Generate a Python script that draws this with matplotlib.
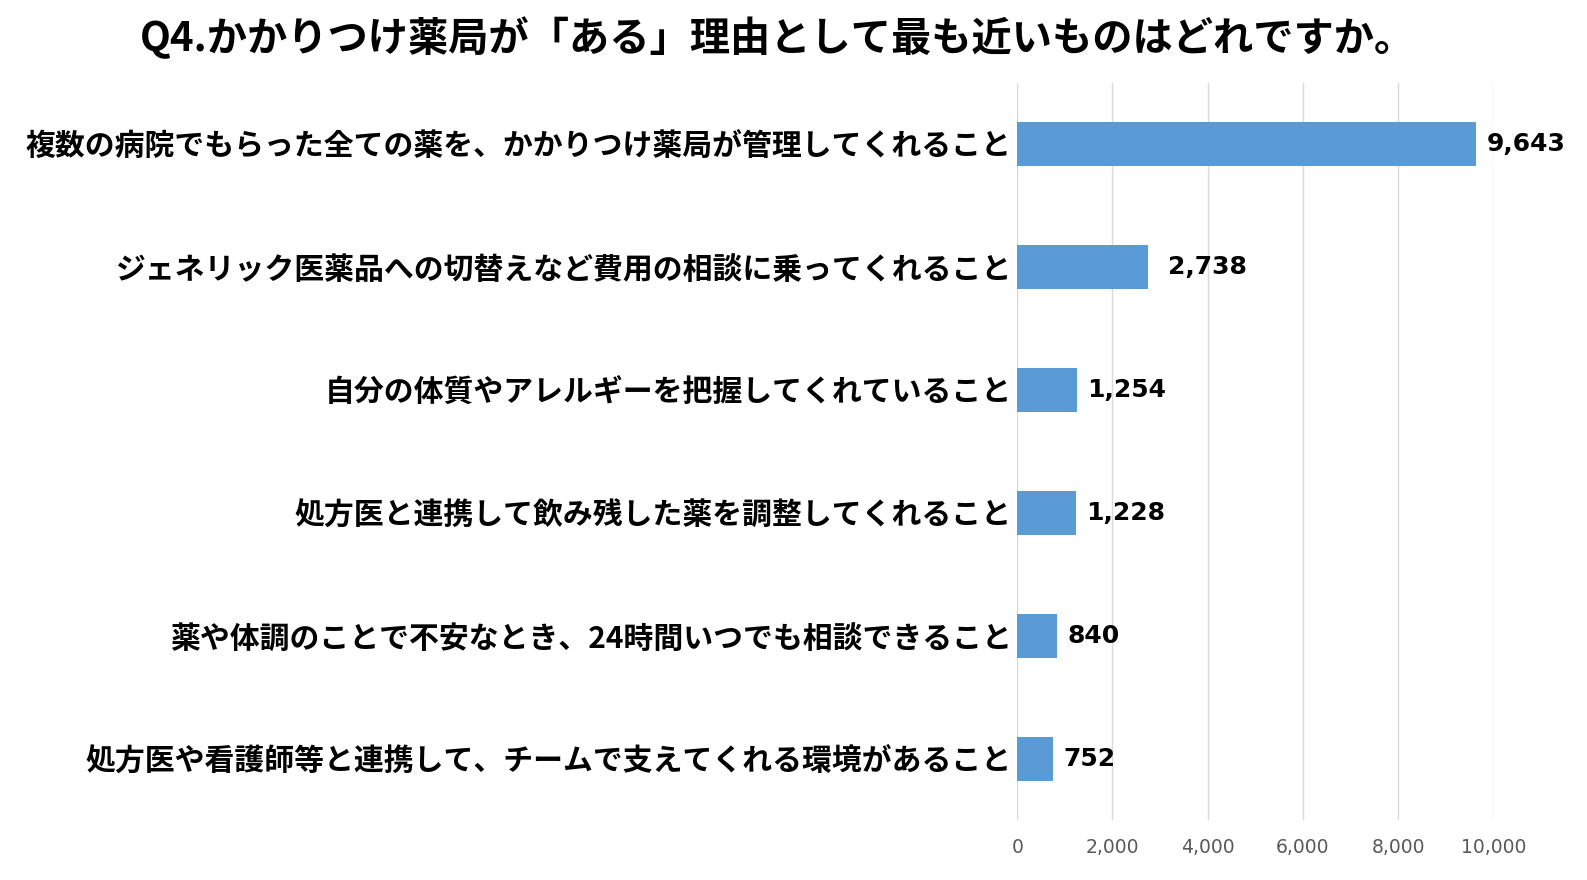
import matplotlib
matplotlib.use('Agg')
import matplotlib.pyplot as plt
from matplotlib.ticker import FuncFormatter

plt.rcParams['font.family'] = ['Noto Sans CJK JP', 'DejaVu Sans']

title = 'Q4.かかりつけ薬局が「ある」理由として最も近いものはどれですか。'
categories = [
    '複数の病院でもらった全ての薬を、かかりつけ薬局が管理してくれること',
    'ジェネリック医薬品への切替えなど費用の相談に乗ってくれること',
    '自分の体質やアレルギーを把握してくれていること',
    '処方医と連携して飲み残した薬を調整してくれること',
    '薬や体調のことで不安なとき、24時間いつでも相談できること',
    '処方医や看護師等と連携して、チームで支えてくれる環境があること',
]
counts = [9643, 2738, 1254, 1228, 840, 752]
ticks = [0, 2000, 4000, 6000, 8000, 10000]

fig = plt.figure(figsize=(15.87, 8.80), dpi=100)
ax = fig.add_axes([0.641, 0.068, 0.300, 0.838])

pos = list(range(len(categories)))
ax.barh(pos, counts, height=0.36, color='#5B9BD5', zorder=3)
ax.set_ylim(len(categories) - 0.5, -0.5)
ax.set_xlim(0, 10000)
ax.set_xticks(ticks)
ax.xaxis.set_major_formatter(FuncFormatter(lambda v, p: f'{int(v):,}'))
ax.tick_params(axis='x', length=0, pad=13, labelsize=13.5, labelcolor='#595959')
for t in ax.get_xticklabels():
    t.set_family('DejaVu Sans')
ax.set_yticks(pos)
ax.set_yticklabels(categories, fontsize=21.5, fontweight='bold')
ax.tick_params(axis='y', length=0, pad=4)
ax.grid(axis='x', color='#D9D9D9', linewidth=1, zorder=0)
for s in ax.spines.values():
    s.set_visible(False)

for i, v in enumerate(counts):
    off = 20 if i == 1 else 10
    ax.annotate(f'{v:,}', (v, i), xytext=(off, 0), textcoords='offset pixels',
                va='center', ha='left', fontsize=18, fontweight='bold',
                family='DejaVu Sans')

fig.text(0.490, 0.956, title, ha='center', va='center', fontsize=29, fontweight='bold')

fig.savefig('out.png', dpi=100, facecolor='white')
